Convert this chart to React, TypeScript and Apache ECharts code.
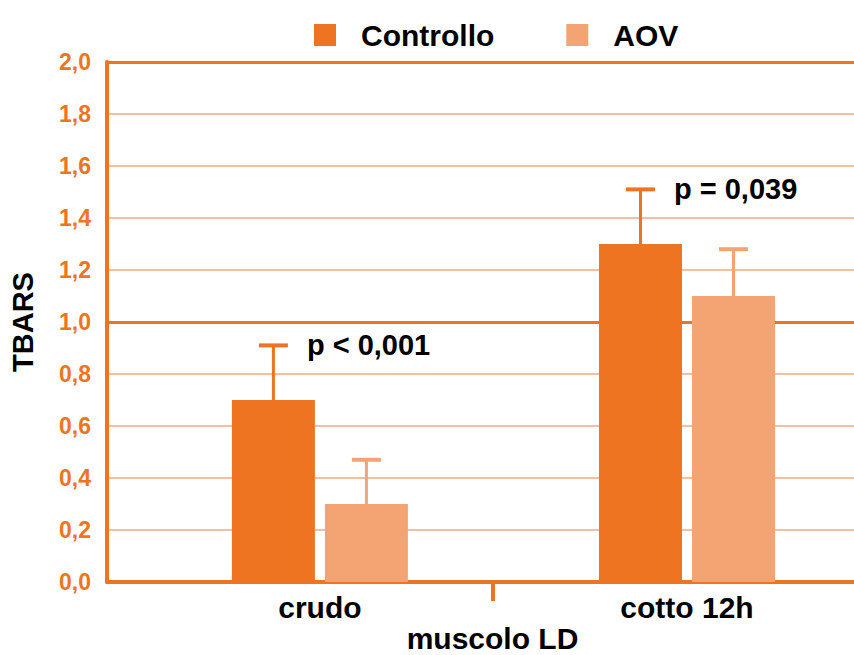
import React, { useEffect, useRef } from 'react';
import * as echarts from 'echarts';

// ---- data ----
const categories = ['crudo', 'cotto 12h'];
const controllo = [0.7, 1.3];
const aov = [0.3, 1.1];
const controlloSd = [0.21, 0.21];
const aovSd = [0.17, 0.18];
const pLabels = ['p < 0,001', 'p = 0,039'];
const yMin = 0;
const yMax = 2;
const yStep = 0.2;

// ---- style ----
const FONT = '"Liberation Sans", Arial, Helvetica, sans-serif';
const DARK = '#EE7421';
const LIGHT = '#F4A373';
const GRID_LIGHT = '#F7A87C';
const BAR_W = 83;
const BAR_GAP = 10;
const HALF_OFF = (BAR_W + BAR_GAP) / 2;
const CAP_HALF = 14.5;

function makeErr(name: string, values: number[], sds: number[], color: string, offset: number, labels?: string[]) {
  return {
    type: 'custom',
    name,
    xAxisIndex: 0,
    yAxisIndex: 0,
    z: 3,
    silent: true,
    data: values.map((v, i) => [i, v, v + sds[i]]),
    encode: { x: 0, y: 1 },
    renderItem: (params: any, api: any) => {
      const x = api.value(0);
      const base = api.coord([x, api.value(1)]);
      const top = api.coord([x, api.value(2)]);
      const cx = base[0] + offset;
      const children: any[] = [
        { type: 'line', shape: { x1: cx, y1: base[1], x2: cx, y2: top[1] }, style: { stroke: color, lineWidth: 3 } },
        { type: 'line', shape: { x1: cx - CAP_HALF, y1: top[1], x2: cx + CAP_HALF, y2: top[1] }, style: { stroke: color, lineWidth: 4 } },
      ];
      if (labels) {
        children.push({
          type: 'text',
          x: cx + CAP_HALF + 19,
          y: top[1],
          style: {
            text: labels[params.dataIndex],
            font: `bold 29px ${FONT}`,
            fill: '#000',
            align: 'left',
            verticalAlign: 'middle',
          },
        });
      }
      return { type: 'group', children };
    },
  };
}

export default function App() {
  const ref = useRef<HTMLDivElement>(null);

  useEffect(() => {
    if (!ref.current) return;
    const chart = echarts.init(ref.current, undefined, { renderer: 'svg' });
    const option: any = {
      animation: false,
      backgroundColor: '#fff',
      textStyle: { fontFamily: FONT },
      legend: {
        data: ['Controllo', 'AOV'],
        left: 314,
        top: 16,
        padding: 0,
        icon: 'rect',
        itemWidth: 22,
        itemHeight: 22,
        itemGap: 72,
        textStyle: {
          color: '#000',
          fontWeight: 'bold',
          fontSize: 30,
          fontFamily: FONT,
          lineHeight: 30,
          padding: [0, 0, 8, 20],
        },
      },
      grid: { left: 107, right: 0, top: 62, bottom: 73, outerBoundsMode: 'none', containLabel: false },
      xAxis: [
        {
          type: 'value',
          min: -0.58,
          max: 1.455,
          splitLine: { show: false },
          axisLine: { show: true, onZero: false, lineStyle: { color: DARK, width: 4 } },
          axisTick: { show: true, customValues: [0.47], length: 19, lineStyle: { color: DARK, width: 4 } },
          axisLabel: {
            customValues: [0, 1],
            formatter: (v: number) => categories[Math.round(v)] ?? '',
            color: '#000',
            fontWeight: 'bold',
            fontSize: 30,
            fontFamily: FONT,
            margin: 10,
          },
          name: 'muscolo LD',
          nameLocation: 'middle',
          nameGap: 41,
          nameMoveOverlap: false,
          nameTextStyle: {
            color: '#000',
            fontWeight: 'bold',
            fontSize: 30,
            lineHeight: 30,
            fontFamily: FONT,
            padding: [0, 0, 0, 24],
          },
        },
      ],
      yAxis: [
        {
          type: 'value',
          min: yMin,
          max: yMax,
          interval: yStep,
          axisLine: { show: true, onZero: false, lineStyle: { color: DARK, width: 4 } },
          axisTick: { show: false },
          axisLabel: {
            formatter: (v: number) => v.toFixed(1).replace('.', ','),
            color: DARK,
            fontWeight: 'bold',
            fontSize: 23,
            fontFamily: FONT,
            margin: 16,
          },
          splitLine: { show: true, lineStyle: { color: GRID_LIGHT, width: 1.5 } },
          name: 'TBARS',
          nameLocation: 'middle',
          nameRotate: 90,
          nameGap: 70,
          nameMoveOverlap: false,
          nameTextStyle: { color: '#000', fontWeight: 'bold', fontSize: 29, fontFamily: FONT },
        },
        {
          type: 'value',
          min: yMin,
          max: yMax,
          interval: 1,
          position: 'left',
          axisLine: { show: false, onZero: false },
          axisTick: { show: false },
          axisLabel: { show: false },
          splitLine: { show: true, lineStyle: { color: DARK, width: 3 } },
        },
      ],
      series: [
        {
          name: 'Controllo',
          type: 'bar',
          xAxisIndex: 0,
          yAxisIndex: 0,
          barWidth: BAR_W,
          barGap: `${(BAR_GAP / BAR_W) * 100}%`,
          itemStyle: { color: DARK },
          data: controllo.map((v, i) => [i, v]),
        },
        {
          name: 'AOV',
          type: 'bar',
          xAxisIndex: 0,
          yAxisIndex: 0,
          barWidth: BAR_W,
          barGap: `${(BAR_GAP / BAR_W) * 100}%`,
          itemStyle: { color: LIGHT },
          data: aov.map((v, i) => [i, v]),
        },
        makeErr('Controllo err', controllo, controlloSd, DARK, -HALF_OFF, pLabels),
        makeErr('AOV err', aov, aovSd, LIGHT, HALF_OFF),
      ],
    };
    chart.setOption(option);
    return () => chart.dispose();
  }, []);

  return (
    <div
      ref={ref}
      style={{ position: 'absolute', left: 0, top: 0, width: 854, height: 655, background: '#fff' }}
    />
  );
}
